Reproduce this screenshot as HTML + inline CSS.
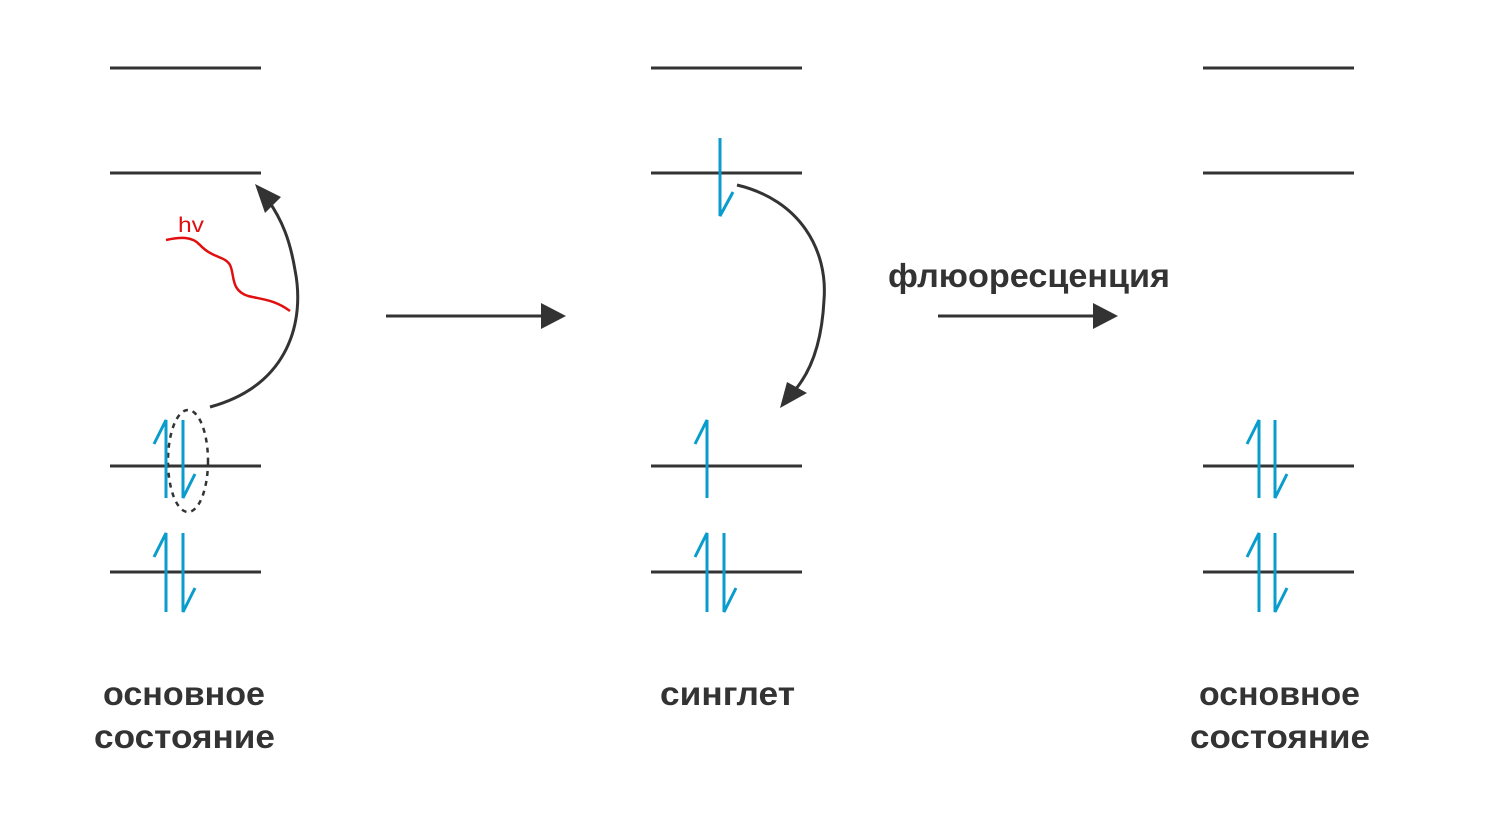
<!DOCTYPE html>
<html><head><meta charset="utf-8"><style>html,body{margin:0;padding:0;background:#fff}svg{display:block}</style></head>
<body>
<svg width="1510" height="828" viewBox="0 0 1510 828" xmlns="http://www.w3.org/2000/svg">
<g stroke="#333" stroke-width="3" fill="none">
<line x1="110" y1="68" x2="261" y2="68"/><line x1="110" y1="173" x2="261" y2="173"/><line x1="110" y1="466" x2="261" y2="466"/><line x1="110" y1="572" x2="261" y2="572"/>
<line x1="651" y1="68" x2="802" y2="68"/><line x1="651" y1="173" x2="802" y2="173"/><line x1="651" y1="466" x2="802" y2="466"/><line x1="651" y1="572" x2="802" y2="572"/>
<line x1="1203" y1="68" x2="1354" y2="68"/><line x1="1203" y1="173" x2="1354" y2="173"/><line x1="1203" y1="466" x2="1354" y2="466"/><line x1="1203" y1="572" x2="1354" y2="572"/>
<line x1="386" y1="316" x2="545" y2="316"/><line x1="938" y1="316" x2="1097" y2="316"/>
<path d="M210,407 C290,385 305,320 295,270 C290,240 282,220 268,200"/>
<path d="M737,185 C800,200 828,250 824,300 C822,340 812,370 795,390"/>
<ellipse cx="188" cy="461" rx="20" ry="51" stroke-dasharray="5,5" stroke-width="2.5"/>
</g>
<g fill="#333">
<polygon points="541,303 566,316 541,329"/><polygon points="1093,303 1118,316 1093,329"/>
<polygon points="255,184 281,197 265,213"/>
<polygon points="780,408 787,382 807,393"/>
</g>
<path d="M166,240 C180,237 192,236 200,245 C212,258 225,256 230,265 C235,275 230,290 248,296 C265,300 275,300 290,311" stroke="#e01010" stroke-width="2.5" fill="none"/>
<text x="178" y="232" fill="#e01010" font-family="Liberation Sans, sans-serif" font-size="21" textLength="26" lengthAdjust="spacingAndGlyphs">hv</text>
<g stroke="#0a9ccc" stroke-width="3" fill="none">
<path d="M154,444 L166,420 L166,498"/><path d="M183,420 L183,498 L195,474"/>
<path d="M154,557 L166,533 L166,612"/><path d="M183,533 L183,612 L195,588"/>
<path d="M720,138 L720,216 L733,192"/>
<path d="M695,444 L707,420 L707,498"/>
<path d="M695,557 L707,533 L707,612"/><path d="M724,533 L724,612 L736,588"/>
<path d="M1247,444 L1259,420 L1259,498"/><path d="M1275,420 L1275,498 L1287,474"/>
<path d="M1247,557 L1259,533 L1259,612"/><path d="M1275,533 L1275,612 L1287,588"/>
</g>
<g fill="#333" font-family="Liberation Sans, DejaVu Sans, sans-serif" font-weight="bold" font-size="33">
<text x="888" y="287" textLength="282" lengthAdjust="spacingAndGlyphs">флюоресценция</text>
<text x="103" y="705" textLength="162" lengthAdjust="spacingAndGlyphs">основное</text>
<text x="94" y="748" textLength="181" lengthAdjust="spacingAndGlyphs">состояние</text>
<text x="660" y="705" textLength="135" lengthAdjust="spacingAndGlyphs">синглет</text>
<text x="1199" y="705" textLength="161" lengthAdjust="spacingAndGlyphs">основное</text>
<text x="1190" y="748" textLength="180" lengthAdjust="spacingAndGlyphs">состояние</text>
</g>
</svg>
</body></html>
